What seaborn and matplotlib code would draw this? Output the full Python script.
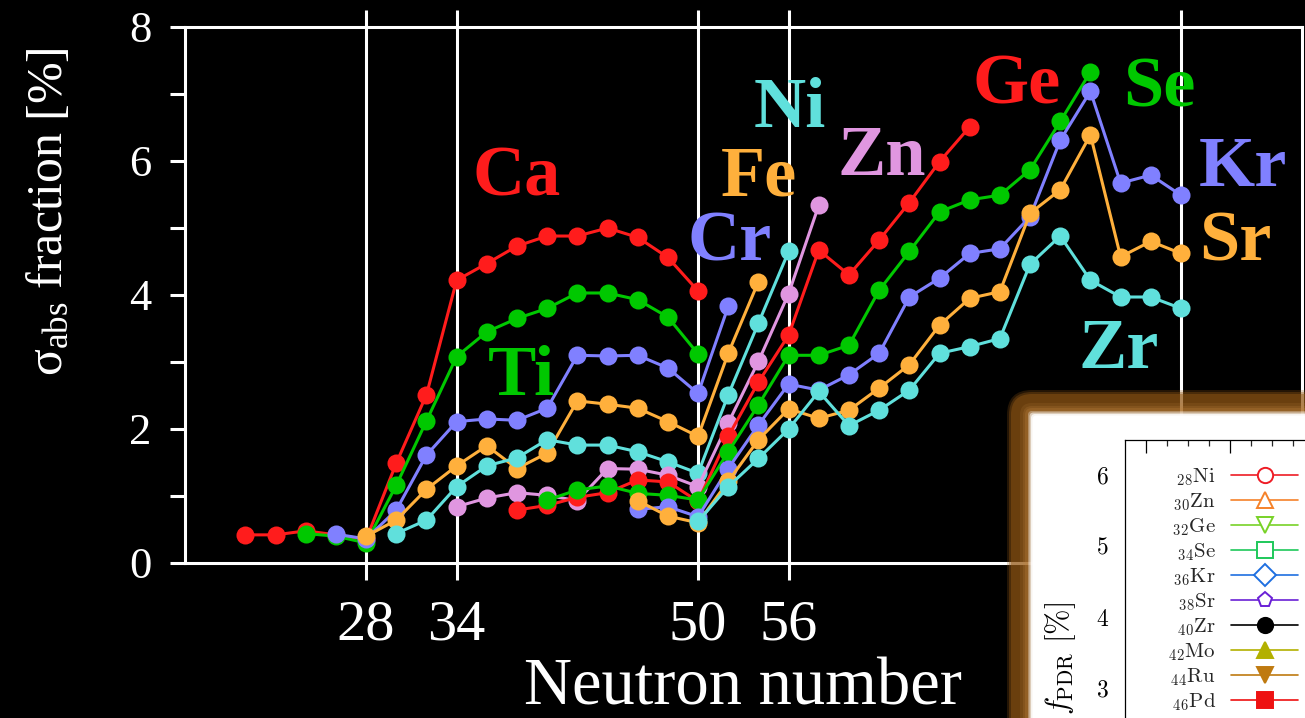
import matplotlib
matplotlib.use("Agg")
import matplotlib.pyplot as plt
import matplotlib.transforms as mtransforms
import numpy as np
import pandas as pd
import seaborn as sns
from matplotlib.patches import FancyBboxPatch
from matplotlib.lines import Line2D
from matplotlib.font_manager import FontProperties
from matplotlib.ticker import MultipleLocator, NullFormatter

# ---- absorption cross-section fraction per isotope chain (even neutron numbers) ----
ca_n = list(range(20, 51, 2))
ca_v = [0.42, 0.42, 0.48, 0.42, 0.35, 1.49, 2.51, 4.22, 4.47, 4.73, 4.88, 4.88, 5.00, 4.86, 4.56, 4.06]
ti_n = list(range(24, 51, 2))
ti_v = [0.44, 0.40, 0.30, 1.16, 2.12, 3.08, 3.45, 3.65, 3.80, 4.03, 4.03, 3.93, 3.67, 3.12]
cr_n = list(range(26, 53, 2))
cr_v = [0.43, 0.36, 0.79, 1.61, 2.11, 2.15, 2.13, 2.31, 3.10, 3.09, 3.10, 2.91, 2.53, 3.83]
fe_n = list(range(28, 55, 2))
fe_v = [0.40, 0.64, 1.10, 1.45, 1.75, 1.41, 1.64, 2.42, 2.37, 2.31, 2.11, 1.89, 3.13, 4.20]
ni_n = list(range(30, 57, 2))
ni_v = [0.44, 0.64, 1.14, 1.45, 1.57, 1.84, 1.76, 1.76, 1.66, 1.51, 1.34, 2.51, 3.58, 4.65]
zn_n = list(range(34, 59, 2))
zn_v = [0.84, 0.97, 1.05, 1.01, 0.93, 1.41, 1.40, 1.31, 1.14, 2.09, 3.01, 4.02, 5.34]
ge_n = list(range(38, 69, 2))
ge_v = [0.79, 0.86, 0.98, 1.05, 1.24, 1.21, 0.92, 1.89, 2.70, 3.40, 4.67, 4.30, 4.82, 5.38, 5.99, 6.51]
se_n = list(range(40, 77, 2))
se_v = [0.94, 1.09, 1.15, 1.04, 1.01, 0.94, 1.66, 2.36, 3.10, 3.10, 3.25, 4.07, 4.65, 5.24, 5.42,
        5.49, 5.87, 6.59, 7.33]
kr_n = list(range(46, 83, 2))
kr_v = [0.80, 0.84, 0.69, 1.41, 2.06, 2.67, 2.58, 2.81, 3.13, 3.97, 4.25, 4.62, 4.69, 5.17, 6.31,
        7.04, 5.67, 5.79, 5.49]
sr_n = list(range(46, 83, 2))
sr_v = [0.93, 0.70, 0.60, 1.22, 1.84, 2.30, 2.16, 2.28, 2.61, 2.96, 3.55, 3.95, 4.05, 5.22, 5.57,
        6.39, 4.57, 4.80, 4.62]
zr_n = list(range(50, 83, 2))
zr_v = [0.62, 1.14, 1.56, 2.00, 2.56, 2.05, 2.28, 2.58, 3.13, 3.23, 3.35, 4.46, 4.88, 4.22, 3.97,
        3.97, 3.80]

elements = ["Ca", "Ti", "Cr", "Fe", "Ni", "Zn", "Ge", "Se", "Kr", "Sr", "Zr"]
neutrons = [ca_n, ti_n, cr_n, fe_n, ni_n, zn_n, ge_n, se_n, kr_n, sr_n, zr_n]
fractions = [ca_v, ti_v, cr_v, fe_v, ni_v, zn_v, ge_v, se_v, kr_v, sr_v, zr_v]

# magic / sub-shell neutron numbers marked with vertical lines (82 sits under the inset)
shell_n = [28, 34, 50, 56, 82]
shell_labels = ["28", "34", "50", "56", ""]

# element name labels: (x in N, baseline y)
label_pos = {
    "Ca": (38.0, 5.49), "Ti": (38.3, 2.51), "Cr": (52.1, 4.52), "Fe": (54.05, 5.49),
    "Ni": (56.1, 6.51), "Zn": (62.2, 5.79), "Ge": (71.1, 6.86), "Se": (80.55, 6.81),
    "Kr": (86.1, 5.62), "Sr": (85.6, 4.51), "Zr": (77.9, 2.91),
}

red, green, blue, orange, cyan, pink = "#ff1c1c", "#00c800", "#8080ff", "#ffb03c", "#60e0dc", "#e096e0"
palette = dict(zip(elements, [red, green, blue, orange, cyan, pink, red, green, blue, orange, cyan]))

# inset legend entries
pdr_labels = [r"${}_{28}\mathrm{Ni}$", r"${}_{30}\mathrm{Zn}$", r"${}_{32}\mathrm{Ge}$",
              r"${}_{34}\mathrm{Se}$", r"${}_{36}\mathrm{Kr}$", r"${}_{38}\mathrm{Sr}$",
              r"${}_{40}\mathrm{Zr}$", r"${}_{42}\mathrm{Mo}$", r"${}_{44}\mathrm{Ru}$",
              r"${}_{46}\mathrm{Pd}$"]
pdr_colors = ["#ee1c25", "#f5822a", "#78d228", "#1ec85a", "#1f6fe0", "#6a20d6",
              "#000000", "#b3b000", "#bf7a10", "#ee1111"]
pdr_markers = ["o", "^", "v", "s", "D", "p", "o", "^", "v", "s"]
pdr_filled = [False] * 6 + [True] * 4

df = pd.concat(
    [pd.DataFrame({"N": n, "frac": v, "element": e}) for e, n, v in zip(elements, neutrons, fractions)],
    ignore_index=True,
)

sns.set_style("dark")
plt.rcParams.update({
    "font.family": ["Liberation Serif", "DejaVu Serif"],
    "mathtext.fontset": "custom",
    "mathtext.rm": "Liberation Serif",
    "mathtext.it": "Liberation Serif:italic",
    "mathtext.bf": "Liberation Serif:bold",
    "figure.facecolor": "black",
    "savefig.facecolor": "black",
})

W, H = 1305, 718
fig = plt.figure(figsize=(W / 100, H / 100), dpi=100)

# main axes: N from 16 to 90, y from 0 to 8
ax = fig.add_axes([185 / W, 1 - 563 / H, (1301.7 - 185) / W, 536 / H])
ax.set_facecolor("black")

sns.lineplot(data=df, x="N", y="frac", hue="element", hue_order=elements, palette=palette,
             marker="o", markersize=13, markeredgewidth=0, linewidth=2.2, sort=False,
             estimator=None, legend=False, ax=ax, zorder=3)

ax.set_xlim(16, 90)
ax.set_ylim(0, 8)
ax.set_xticks(shell_n)
ax.set_xticklabels(shell_labels)
ax.set_yticks(range(0, 9))
ax.set_yticklabels([str(v) if v % 2 == 0 else "" for v in range(0, 9)])
ax.grid(False)
ax.grid(axis="x", color="white", linewidth=2.2, zorder=1)
ax.set_axisbelow(True)
for s in ax.spines.values():
    s.set_color("white")
    s.set_linewidth(2.2)
    s.set_visible(True)
ax.tick_params(axis="x", which="major", direction="out", length=12.2, width=2.2, top=True,
               bottom=True, labeltop=False, colors="white", labelsize=42, pad=14)
ax.tick_params(axis="y", which="major", direction="out", length=11, width=2.2, left=True,
               right=False, colors="white", labelsize=32, pad=13)

ax.set_xlabel("Neutron number", color="white", fontsize=48)
ax.xaxis.set_label_coords(0.5, -0.176)
ax.set_ylabel("σ$_{\\mathrm{abs}}$ fraction [%]", color="white", fontsize=36)
ax.yaxis.set_label_coords(-0.100, 0.655)

for e in elements:
    x, y = label_pos[e]
    ax.text(x, y, e, color=palette[e], fontsize=52, fontweight="bold", ha="center",
            va="baseline", zorder=5)

# glowing frame behind the inset panel (pixel coordinates)
ident = mtransforms.IdentityTransform()
x0, y0 = 1010, 393


def frame_layer(d, color, alpha, z, r=22):
    fig.add_artist(FancyBboxPatch((x0 + d, -60), W + 80 - x0 - d, (H - y0 - d) + 60,
                                  boxstyle=f"round,pad=0,rounding_size={max(r - d, 4)}",
                                  transform=ident, facecolor=color, edgecolor="none",
                                  alpha=alpha, zorder=z))


for d, a in [(-3, 0.25), (-1, 0.35), (1, 0.45)]:
    frame_layer(d, "#935714", a, 1)
for d, a in [(10, 0.15), (13, 0.2), (15, 0.25)]:
    frame_layer(d, "#c08440", a, 1)
for i, a in enumerate([0.3, 0.55, 0.8, 1.0]):
    frame_layer(18 + i * 1.5, "white", a, 2, r=10)

# inset panel (PDR strength fraction)
in_left, in_top, in_w, in_h = 1125, 440, 400, 280
ax_in = fig.add_axes([in_left / W, 1 - (in_top + in_h) / H, in_w / W, in_h / H], zorder=3)
ax_in.set_facecolor("white")
ax_in.set_ylim(6.493 - in_h / 71.0, 6.493)
ax_in.set_xlim(27.54, 27.54 + in_w / 8.43)
ax_in.grid(False)
for s in ax_in.spines.values():
    s.set_color("black")
    s.set_linewidth(0.9)
ax_in.yaxis.set_major_locator(MultipleLocator(1))
ax_in.yaxis.set_minor_locator(MultipleLocator(0.5))
ax_in.xaxis.set_major_locator(MultipleLocator(10))
ax_in.xaxis.set_minor_locator(MultipleLocator(2.5))
ax_in.xaxis.set_major_formatter(NullFormatter())
ax_in.tick_params(axis="both", which="major", direction="in", length=9, width=0.9,
                  top=True, right=True, colors="black", labelsize=17,
                  labelfontfamily="cmr10", pad=12)
ax_in.tick_params(axis="both", which="minor", direction="in", length=4.5, width=0.9,
                  top=True, right=True)
ax_in.set_ylabel(r"$f_{\mathrm{PDR}}\ [\%]$", fontsize=22, color="black", math_fontfamily="cm")
ax_in.yaxis.set_label_coords(-0.118, 0.221)

handles = [
    Line2D([], [], color=c, marker=m, markersize=11, linewidth=1.2, markeredgewidth=1.4,
           markerfacecolor=(c if f else "white"), markeredgecolor=c)
    for c, m, f in zip(pdr_colors, pdr_markers, pdr_filled)
]
leg = ax_in.legend(handles, pdr_labels, loc="upper right",
                   bbox_to_anchor=(1298 / W, 1 - 466 / H), bbox_transform=fig.transFigure,
                   frameon=False, markerfirst=False, borderpad=0, borderaxespad=0,
                   handlelength=3.2, handletextpad=0.75, labelspacing=0.17,
                   prop=FontProperties(size=15, math_fontfamily="cm"))

fig.savefig("out.png", dpi=100)
